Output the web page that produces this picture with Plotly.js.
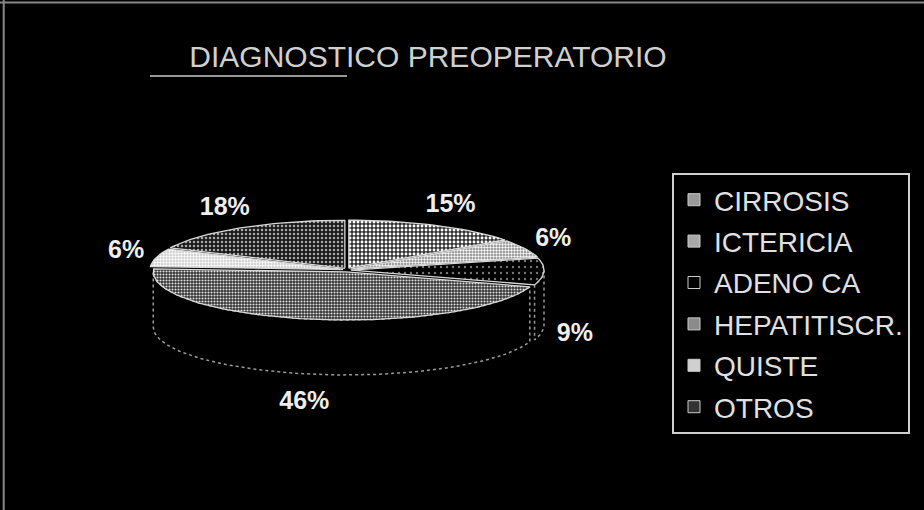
<!DOCTYPE html>
<html>
<head>
<meta charset="utf-8">
<script src="https://cdn.plot.ly/plotly-3.0.1.min.js"></script>
<style>html,body{margin:0;padding:0;background:#000;}#chart{width:924px;height:510px;}</style>
</head>
<body>
<div id="chart"></div>
<script>
// ---- data ----
const categories = ['CIRROSIS', 'ICTERICIA', 'ADENO CA', 'HEPATITISCR.', 'QUISTE', 'OTROS'];
const percents = [15, 6, 9, 46, 6, 18];
const pctLabels = ['15%', '6%', '9%', '46%', '6%', '18%'];
const chartTitle = 'DIAGNOSTICO PREOPERATORIO';

// ---- styles / geometry (not data) ----
const CX = 347, CY = 270, RX = 193, RY = 48, DEPTH = 55, EXPLODE = 4;
const LBL_RX = 228, LBL_RY = 72, LBL_FRONT = 62;
const FONT = 'Liberation Sans, Arial, sans-serif';
const patterns = [
  {shape: '.', fgcolor: '#ffffff', bgcolor: '#333333', size: 4, solidity: 0.4},
  {shape: '.', fgcolor: '#ffffff', bgcolor: '#808080', size: 3, solidity: 0.5},
  {shape: '.', fgcolor: '#777777', bgcolor: '#000000', size: 6, solidity: 0.12},
  {shape: '.', fgcolor: '#e0e0e0', bgcolor: '#333333', size: 3, solidity: 0.38},
  {shape: '.', fgcolor: '#ffffff', bgcolor: '#c8c8c8', size: 3, solidity: 0.5},
  {shape: '.', fgcolor: '#aaaaaa', bgcolor: '#1a1a1a', size: 4, solidity: 0.3}
];
const legendColors = ['#9a9a9a', '#a8a8a8', '#000000', '#8a8a8a', '#d0d0d0', '#333333'];

const rad = d => d * Math.PI / 180;
function pt(theta, dx, dy, down) {
  return [CX + dx + RX * Math.sin(rad(theta)), CY + dy - RY * Math.cos(rad(theta)) + (down || 0)];
}
function arc(t1, t2, dx, dy, down) {
  const n = Math.max(4, Math.ceil((t2 - t1) / 2));
  const out = [];
  for (let i = 0; i <= n; i++) out.push(pt(t1 + (t2 - t1) * i / n, dx, dy, down));
  return out;
}

const total = percents.reduce((a, b) => a + b, 0);
const walls = [], tops = [], lx = [], ly = [];
let start = 0;
percents.forEach((p, i) => {
  const t1 = start, t2 = start + 360 * p / total, tm = (t1 + t2) / 2;
  start = t2;
  const dx = EXPLODE * Math.sin(rad(tm)), dy = -EXPLODE * 0.5 * Math.cos(rad(tm));
  // top face
  const face = [[CX + dx, CY + dy]].concat(arc(t1, t2, dx, dy)).concat([[CX + dx, CY + dy]]);
  tops.push({
    type: 'scatter', mode: 'lines', x: face.map(q => q[0]), y: face.map(q => q[1]),
    fill: 'toself', fillcolor: legendColors[i], fillpattern: patterns[i],
    line: {color: '#d8d8d8', width: 1.3}, showlegend: false, hoverinfo: 'skip'
  });
  // front wall
  const a = Math.max(t1, 90), b = Math.min(t2, 270);
  if (a < b) {
    const w = arc(a, b, dx, dy).concat(arc(a, b, dx, dy, DEPTH).reverse());
    w.push(w[0]);
    walls.push({
      type: 'scatter', mode: 'lines', x: w.map(q => q[0]), y: w.map(q => q[1]),
      fill: 'toself', fillcolor: '#000000',
      line: {color: '#9a9a9a', width: 1.5, dash: 'dot'}, showlegend: false, hoverinfo: 'skip'
    });
  }
  // label position
  const c = Math.cos(rad(tm));
  lx.push(CX + LBL_RX * Math.sin(rad(tm)));
  ly.push(CY - LBL_RY * c + (c < 0 ? LBL_FRONT : 0));
});

const labelTrace = {
  type: 'scatter', mode: 'text', x: lx, y: ly,
  text: pctLabels.map(t => '<b>' + t + '</b>'), textposition: 'middle center',
  textfont: {family: FONT, size: 25, color: '#eeeeee'},
  showlegend: false, hoverinfo: 'skip'
};

const legendTraces = categories.map((c, i) => ({
  type: 'scatter', mode: 'markers', x: [null], y: [null], name: c,
  legendgroup: 'g' + i,
  marker: {symbol: 'square', size: 12, color: legendColors[i], line: {color: '#cccccc', width: 1}}
}));

const layout = {
  width: 924, height: 510,
  paper_bgcolor: '#000000', plot_bgcolor: '#000000',
  margin: {l: 0, r: 0, t: 0, b: 0},
  xaxis: {range: [0, 924], visible: false, fixedrange: true},
  yaxis: {range: [510, 0], visible: false, fixedrange: true},
  title: {
    text: chartTitle, x: 428 / 924, y: 1 - 56 / 510, xanchor: 'center', yanchor: 'middle',
    font: {family: FONT, size: 30, color: '#d0d0d0'}
  },
  showlegend: true,
  legend: {
    x: 672 / 924, y: 1 - 173 / 510, xanchor: 'left', yanchor: 'top',
    bgcolor: '#000000', bordercolor: '#d0d0d0', borderwidth: 2,
    font: {family: FONT, size: 28, color: '#e0e0e0'},
    tracegroupgap: 2, itemclick: false, itemdoubleclick: false
  },
  shapes: [
    {type: 'line', xref: 'paper', yref: 'paper', x0: 0, x1: 1, y0: 0.995, y1: 0.995, line: {color: '#888', width: 2}},
    {type: 'line', xref: 'paper', yref: 'paper', x0: 0.004, x1: 0.004, y0: 0, y1: 1, line: {color: '#888', width: 2}},
    {type: 'line', xref: 'x', yref: 'y', x0: 150, x1: 347, y0: 76, y1: 76, line: {color: '#999', width: 2}}
  ]
};

Plotly.newPlot('chart', walls.concat(tops).concat([labelTrace]).concat(legendTraces), layout, {displayModeBar: false, staticPlot: true});
</script>
</body>
</html>
